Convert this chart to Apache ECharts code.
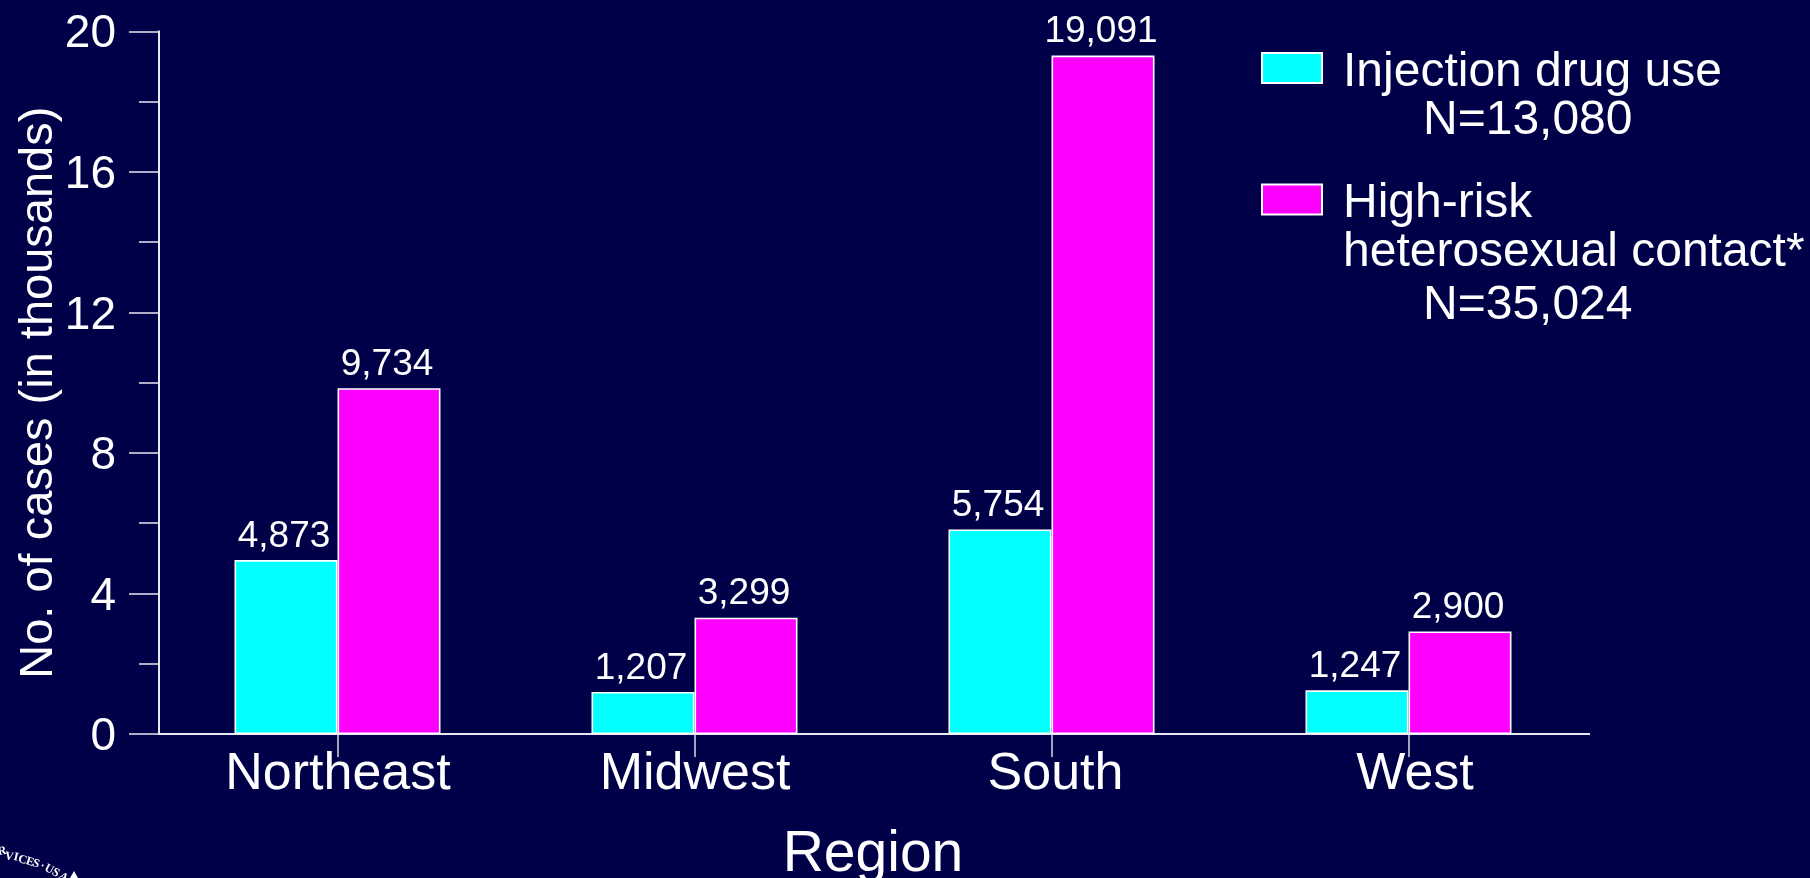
<!DOCTYPE html>
<html><head><meta charset="utf-8">
<style>html,body{margin:0;padding:0;background:#000048}#c{width:1810px;height:878px}</style>
<script src="https://cdn.jsdelivr.net/npm/echarts@6/dist/echarts.min.js"></script>
</head><body><div id="c"></div>
<script>
const categories = ['Northeast','Midwest','South','West'];
const seriesNames = ['Injection drug use','High-risk heterosexual contact*'];
// bar heights as drawn in the picture (thousands)
const injectionHeights = [4.95,1.196,5.82,1.244];
const heterosexualHeights = [9.84,3.31,19.31,2.92];
// values printed above the bars
const injectionPrinted = ['4,873','1,207','5,754','1,247'];
const heterosexualPrinted = ['9,734','3,299','19,091','2,900'];
const F = '"Liberation Sans", Arial, sans-serif';
const W = '#ffffff';
const chart = echarts.init(document.getElementById('c'), null, {renderer:'canvas'});
function bar(name, data, printed, color){
  return {name, type:'bar', data, barWidth:103, barGap:0, itemStyle:{color, borderColor:W, borderWidth:1.6},
    label:{show:true, position:'top', distance:5, offset:[-2,0], color:W, fontFamily:F, fontSize:37,
      formatter:p=>printed[p.dataIndex]}, silent:true, animation:false};
}
function txt(text,x,y,size){return {type:'text',x,y,style:{text,fill:W,font:size+'px '+F,textVerticalAlign:'middle',textBaseline:'middle'},silent:true};}
const sealLetters = [['R',-3,846,8],['V',6,850,-11],['I',15,851,-13],['C',20,853,-16],['E',28,855,-18],['S',35,857,-21],['·',43,860,-24],['U',48,862,-28],['S',56,866,-31],['A',63,870,-34]];
const xLabelStyle = (left)=>({color:W,fontFamily:F,fontSize:52,padding:[0,0,0,left]});
const legendRich = {a:{color:W,fontFamily:F,fontSize:48,padding:[9,0,0,16]}};
chart.setOption({
  animation:false,
  backgroundColor:'#000048',
  grid:{left:159,width:1428,top:31.3,bottom:144,containLabel:false,outerBoundsMode:'none'},
  legend:[
    {data:[seriesNames[0]],left:1256,top:43.5,itemWidth:60,itemHeight:30,selectedMode:false,icon:'rect',
     formatter:n=>'{a|'+n+'}',
     textStyle:{color:W,fontFamily:F,fontSize:48,rich:legendRich}},
    {data:[seriesNames[1]],left:1256,top:175,itemWidth:60,itemHeight:30,selectedMode:false,icon:'rect',
     formatter:()=> '{a|High-risk}',
     textStyle:{color:W,fontFamily:F,fontSize:48,rich:legendRich}}
  ],
  xAxis:{type:'category',data:categories,name:'Region',nameLocation:'middle',nameGap:93,
    nameTextStyle:{color:W,fontFamily:F,fontSize:57},
    axisLine:{lineStyle:{color:'#e8e8f0',width:2}},
    axisTick:{show:true,alignWithLabel:true,length:23,lineStyle:{color:'#d8d8e4',width:1.5}},
    axisLabel:{color:W,fontFamily:F,fontSize:52,margin:15,interval:0,
      formatter:v=>'{'+v+'|'+v+'}',
      rich:{Northeast:xLabelStyle(1),Midwest:xLabelStyle(1),South:xLabelStyle(8),West:xLabelStyle(13)}},
    splitLine:{show:false}},
  yAxis:{type:'value',min:0,max:20,interval:4,name:'No. of cases (in thousands)',nameLocation:'middle',nameRotate:90,nameGap:96,nameMoveOverlap:false,
    nameTextStyle:{color:W,fontFamily:F,fontSize:47,padding:[0,20,0,0]},
    axisLine:{show:true,lineStyle:{color:'#e8e8f0',width:2}},
    axisTick:{show:true,length:30,lineStyle:{color:'#e8e8f0',width:1.5}},
    minorTick:{show:true,splitNumber:2,length:20,lineStyle:{color:'#e8e8f0',width:1.5}},
    axisLabel:{color:W,fontFamily:F,fontSize:46,margin:43,
      formatter:'{t|{value}}',
      rich:{t:{color:W,fontFamily:F,fontSize:46,padding:[7,0,0,0]}}},
    splitLine:{show:false}},
  series:[bar(seriesNames[0],injectionHeights,injectionPrinted,'#00ffff'),
          bar(seriesNames[1],heterosexualHeights,heterosexualPrinted,'#ff00ff')],
  graphic:[
    txt('N=13,080',1423,121,48),
    txt('heterosexual contact*',1343,253,48),
    txt('N=35,024',1423,306,48),
    {type:'line',shape:{x1:1587,y1:734,x2:1590,y2:734},style:{stroke:'#e8e8f0',lineWidth:2},silent:true},
    ...sealLetters.map(l=>({type:'text',x:l[1],y:l[2],rotation:l[3]*Math.PI/180,
      style:{text:l[0],fill:W,font:'bold 12px "Liberation Serif", serif'},silent:true})),
    {type:'polygon',shape:{points:[[70,878],[74,871],[78,878]]},style:{fill:W},silent:true}
  ]
});
</script></body></html>
